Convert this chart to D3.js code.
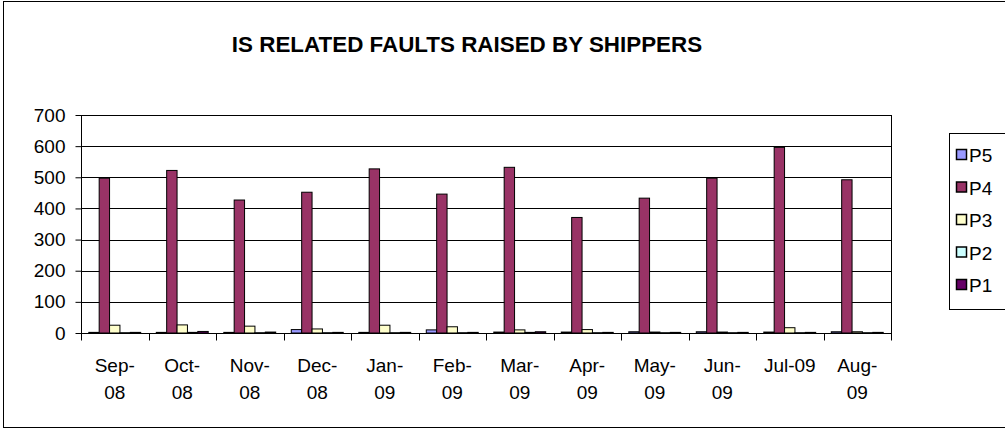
<!DOCTYPE html>
<html>
<head>
<meta charset="utf-8">
<script src="https://cdn.jsdelivr.net/npm/d3@7"></script>
<style>
  body { margin: 0; background: #fff; }
  svg text { font-family: Arial, "Liberation Sans", sans-serif; fill: #000; }
</style>
</head>
<body>
<svg id="chart" width="1005" height="430"></svg>
<script>
const CHART_TITLE = "IS RELATED FAULTS RAISED BY SHIPPERS";
const months = ["Sep-08", "Oct-08", "Nov-08", "Dec-08", "Jan-09", "Feb-09",
                "Mar-09", "Apr-09", "May-09", "Jun-09", "Jul-09", "Aug-09"];
const seriesNames = ["P5", "P4", "P3", "P2", "P1"];
const seriesColors = ["#9999FF", "#993366", "#FFFFCC", "#CCFFFF", "#660066"];
const p5Values = [2, 2, 2, 11, 2, 10, 3, 3, 4, 4, 3, 4];
const p4Values = [497, 522, 427, 452, 527, 446, 532, 371, 433, 497, 596, 492];
const p3Values = [25, 26, 22, 13, 25, 20, 10, 11, 3, 3, 17, 4];
const p2Values = [1, 2, 1, 1, 1, 1, 2, 1, 1, 1, 1, 1];
const p1Values = [2, 5, 3, 2, 2, 2, 4, 2, 2, 2, 2, 2];
const yTicks = [0, 100, 200, 300, 400, 500, 600, 700];

const seriesValues = [p5Values, p4Values, p3Values, p2Values, p1Values];

const svg = d3.select("#chart");

// outer chart border (right side runs off the picture)
svg.append("rect")
  .attr("x", 3.5).attr("y", 1.5)
  .attr("width", 1010).attr("height", 426)
  .attr("fill", "#fff").attr("stroke", "#000");

const plot = { left: 81, right: 891, top: 115, bottom: 333 };

const x = d3.scaleBand()
  .domain(months)
  .range([plot.left, plot.right])
  .paddingInner(0).paddingOuter(0);

// excel gap width 150% -> bars take 5 of 6.5 units
const barW = x.bandwidth() / (seriesNames.length + 1.5);
const xs = d3.scaleBand()
  .domain(seriesNames)
  .range([barW * 0.75, x.bandwidth() - barW * 0.75]);

const y = d3.scaleLinear().domain([0, 700]).range([plot.bottom, plot.top]);

svg.append("text")
  .attr("x", 467).attr("y", 52)
  .attr("text-anchor", "middle")
  .style("font-size", "22.4px").style("font-weight", "bold")
  .text(CHART_TITLE);

// gridlines
svg.append("g")
  .selectAll("line")
  .data(yTicks.filter((d) => d > 0))
  .join("line")
  .attr("x1", plot.left).attr("x2", plot.right)
  .attr("y1", (d) => Math.round(y(d)) + 0.5)
  .attr("y2", (d) => Math.round(y(d)) + 0.5)
  .attr("stroke", "#000").attr("stroke-width", 1);

// plot area right edge
svg.append("line")
  .attr("x1", plot.right + 0.5).attr("x2", plot.right + 0.5)
  .attr("y1", plot.top).attr("y2", plot.bottom)
  .attr("stroke", "#000");

// bars
const groups = svg.append("g")
  .selectAll("g")
  .data(months)
  .join("g")
  .attr("transform", (d) => "translate(" + x(d) + ",0)");

groups.selectAll("rect")
  .data((m, i) => seriesNames.map((s, k) => ({ s: s, k: k, v: seriesValues[k][i] })))
  .join("rect")
  .attr("x", (d) => xs(d.s))
  .attr("width", xs.bandwidth())
  .attr("y", (d) => y(d.v))
  .attr("height", (d) => y(0) - y(d.v))
  .attr("fill", (d) => seriesColors[d.k])
  .attr("stroke", "#000").attr("stroke-width", 1);

// y axis
const yAxis = svg.append("g")
  .attr("transform", "translate(" + (plot.left + 0.5) + ",0)")
  .call(d3.axisLeft(y).tickValues(yTicks).tickSize(6).tickPadding(10));
yAxis.selectAll("text").style("font-size", "19px");
yAxis.selectAll("line, path").attr("stroke", "#000");
yAxis.select(".domain").attr("d", "M0," + plot.top + "V" + plot.bottom);

// x axis with ticks at the category boundaries
const xAxis = svg.append("g").attr("transform", "translate(0," + (plot.bottom + 0.5) + ")");
xAxis.append("line")
  .attr("x1", plot.left).attr("x2", plot.right + 1)
  .attr("stroke", "#000");
xAxis.selectAll(".tick")
  .data(months.concat(["end"]))
  .join("line")
  .attr("class", "tick")
  .attr("x1", (d, i) => Math.round(plot.left + i * x.bandwidth()) + 0.5)
  .attr("x2", (d, i) => Math.round(plot.left + i * x.bandwidth()) + 0.5)
  .attr("y1", 0).attr("y2", 7)
  .attr("stroke", "#000");

const labels = xAxis.selectAll(".lbl")
  .data(months)
  .join("text")
  .attr("class", "lbl")
  .attr("text-anchor", "middle")
  .style("font-size", "19px")
  .attr("x", (d) => x(d) + x.bandwidth() / 2)
  .attr("y", 38)
  .text((d) => d);

// wrap labels after the hyphen when they are too wide, like excel
labels.each(function (d) {
  const t = d3.select(this);
  if (this.getComputedTextLength() > 55) {
    const cut = d.indexOf("-") + 1;
    t.text(null);
    t.append("tspan").attr("x", t.attr("x")).text(d.slice(0, cut));
    t.append("tspan").attr("x", t.attr("x")).attr("dy", 27).text(d.slice(cut));
  }
});

// legend (box runs off the right edge like the source)
const legend = svg.append("g");
legend.append("rect")
  .attr("x", 949.5).attr("y", 133.5)
  .attr("width", 70).attr("height", 176)
  .attr("fill", "#fff").attr("stroke", "#000");

const items = legend.selectAll(".item")
  .data(seriesNames)
  .join("g")
  .attr("class", "item")
  .attr("transform", (d, i) => "translate(956," + (155 + i * 32.5) + ")");

items.append("rect")
  .attr("x", 0.5).attr("y", -5.5)
  .attr("width", 10).attr("height", 10)
  .attr("fill", (d, i) => seriesColors[i])
  .attr("stroke", "#000").attr("stroke-width", 1.5);

items.append("text")
  .attr("x", 13).attr("y", 7)
  .style("font-size", "19px")
  .text((d) => d);
</script>
</body>
</html>
